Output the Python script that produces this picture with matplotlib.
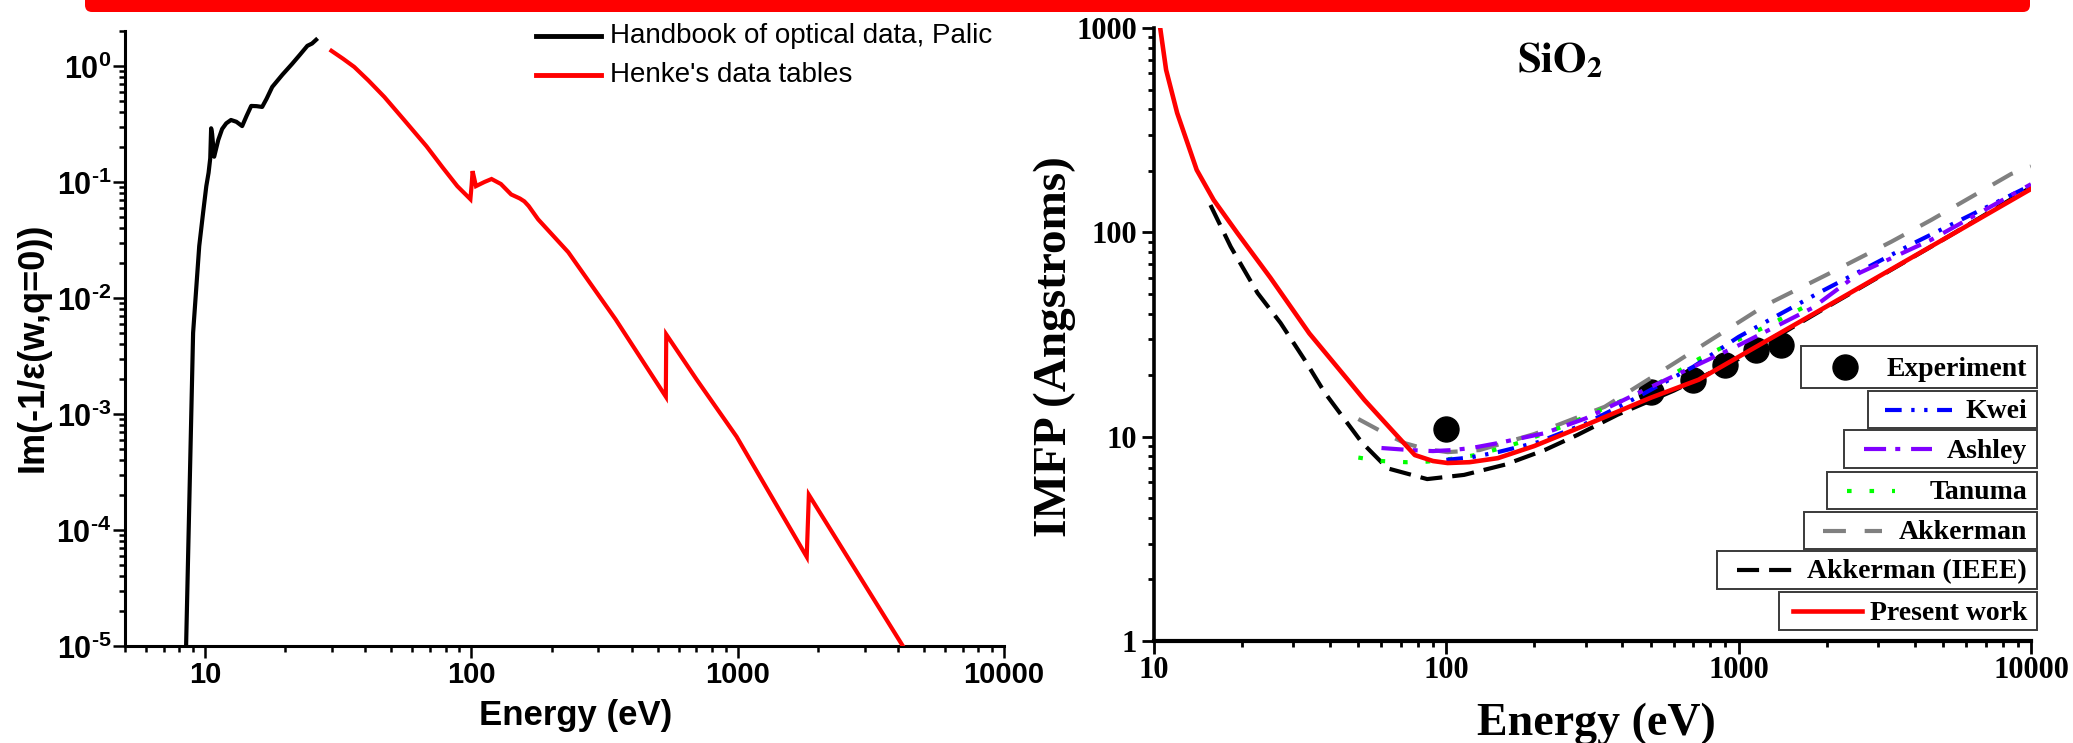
import matplotlib
matplotlib.use('Agg')
import matplotlib.pyplot as plt
from matplotlib.lines import Line2D
from matplotlib.patches import Rectangle, FancyBboxPatch

# ---------------- data: left panel, Im(-1/eps(w,q=0)) ----------------
palic_E = [8.48, 8.93, 9.01, 9.5, 9.83, 10.1, 10.3, 10.45, 10.53, 10.62, 10.81, 11.2, 11.58,
           12.0, 12.5, 13.1, 13.77, 14.3, 14.89, 15.6, 16.37, 17.0, 17.86, 19.5, 21.2, 22.7, 24.2, 25.2, 26.1]
palic_v = [1e-5, 2.0e-3, 5.0e-3, 0.028, 0.055, 0.092, 0.12, 0.16, 0.29, 0.26, 0.165, 0.23, 0.286,
           0.32, 0.342, 0.33, 0.303, 0.37, 0.452, 0.45, 0.443, 0.52, 0.659, 0.84, 1.04, 1.25, 1.49, 1.56, 1.68]

henke_E = [29.8, 33.0, 36.3, 41.0, 47.1, 56.0, 67.8, 78.0, 88.5, 99.1, 100.2, 101.0, 104.0, 112.0,
           119.0, 129.0, 141.0, 152.0, 158.0, 164.0, 178.0, 231.0, 348.0, 537.0, 539.0, 701.0,
           990.0, 1816.0, 1850.0, 4170.0]
henke_v = [1.35, 1.15, 0.98, 0.75, 0.54, 0.34, 0.203, 0.133, 0.092, 0.071, 0.095, 0.124, 0.092, 0.100,
           0.106, 0.096, 0.078, 0.072, 0.068, 0.062, 0.0476, 0.0248, 0.00653, 0.00141, 0.00485, 0.00198,
           0.000638, 0.0000587, 0.000201, 0.00001]

# ---------------- data: right panel, IMFP of SiO2 ----------------
present_E = [10.5, 11.0, 12.0, 14.0, 16.0, 19.3, 25.0, 34.0, 46.0, 52.5, 65.0, 78.0, 90.0, 101.0,
             120.0, 150.0, 200.0, 300.0, 500.0, 730.0, 1000.0, 2000.0, 3890.0, 6000.0, 10000.0]
present_L = [1000, 624, 384, 202, 144, 99, 60, 32, 19, 15.1, 10.8, 8.13, 7.6, 7.43,
             7.5, 7.85, 9.0, 11.4, 15.5, 19.0, 24.6, 43.4, 75, 107, 163]

ieee_E = [15.6, 18.3, 22.6, 27.1, 32.8, 38.4, 51.3, 62.9, 86, 115, 159, 217, 281, 385,
          600, 1000, 2000, 5000, 10000]
ieee_L = [136, 85, 50.5, 36, 23.7, 16.4, 9.4, 7.0, 6.2, 6.5, 7.3, 8.6, 10.2, 12.8,
          16.8, 24, 43, 92, 166]

akker_E = [50, 60, 72, 85, 101, 130, 200, 348, 600, 1236, 2000, 3330, 4560, 8550, 10000]
akker_L = [12.2, 10.6, 9.3, 8.7, 8.4, 8.6, 10.3, 14.0, 22.8, 44, 62, 90, 115, 193, 210]

kwei_E = [100, 120, 150, 206, 300, 431, 700, 1000, 1875, 4000, 10000]
kwei_L = [7.7, 7.9, 8.4, 9.4, 11.6, 15.1, 22, 30.8, 50.5, 89, 170]

ashley_E = [60, 75, 90, 105, 122, 150, 217, 300, 500, 1000, 1790, 2590, 4560, 10000]
ashley_L = [8.8, 8.6, 8.5, 8.6, 8.8, 9.3, 10.4, 12.3, 17.5, 28.0, 42.7, 63.3, 92, 172]

tanuma_E = [50, 60, 73, 86, 105, 124, 150, 180, 217, 254, 309, 441, 519, 730, 1260, 1834]
tanuma_L = [7.9, 7.6, 7.5, 7.55, 7.8, 8.1, 8.7, 9.4, 10.4, 11.3, 12.8, 16.0, 17.9, 24.0, 35.0, 46.0]

exp_E = [100, 500, 700, 900, 1150, 1400]
exp_L = [10.9, 16.6, 19.0, 22.4, 26.6, 28.1]

left_xticks = [10, 100, 1000, 10000]
left_xlabels = ['10', '100', '1000', '10000']
left_yticks = [1e-5, 1e-4, 1e-3, 1e-2, 1e-1, 1e0]
left_ylabels = [r'$10^{\text{-}5}$', r'$10^{\text{-}4}$', r'$10^{\text{-}3}$',
                r'$10^{\text{-}2}$', r'$10^{\text{-}1}$', r'$10^{0}$']
right_xticks = [10, 100, 1000, 10000]
right_xlabels = ['10', '100', '1000', '10000']
right_yticks = [1, 10, 100, 1000]
right_ylabels = ['1', '10', '100', '1000']

# ---------------- figure ----------------
plt.rcParams['mathtext.fontset'] = 'custom'
plt.rcParams['mathtext.rm'] = 'Liberation Sans:bold'
plt.rcParams['mathtext.it'] = 'Liberation Sans:bold'
plt.rcParams['mathtext.bf'] = 'Liberation Sans:bold'

W, H = 2073, 743
fig = plt.figure(figsize=(W / 100, H / 100), dpi=100)


def fx(px):
    return px / W


def fy(py):
    return 1 - py / H


SANS = 'Liberation Sans'
SERIF = 'Liberation Serif'

# red bar across the top
bar = FancyBboxPatch((85 / 100, (H - 12) / 100), (2030 - 85) / 100, 0.3,
                     boxstyle='round,pad=0,rounding_size=0.07',
                     transform=fig.dpi_scale_trans, facecolor='#ff0000', edgecolor='none')
fig.patches.append(bar)

# ---------------- left panel ----------------
ax1 = fig.add_axes([fx(125), fy(646), fx(1004) - fx(125), fy(31) - fy(646)])
ax1.set_xscale('log')
ax1.set_yscale('log')
ax1.plot(palic_E, palic_v, color='black', lw=3.0, solid_joinstyle='round', zorder=3)
ax1.plot(henke_E, henke_v, color='#ff0000', lw=3.0, solid_joinstyle='miter', zorder=3)
ax1.set_xlim(5, 10000)
ax1.set_ylim(1e-5, 2)
ax1.set_xticks(left_xticks, left_xlabels, fontfamily=SANS, fontweight='bold', fontsize=21)
ax1.set_xticks([m * d for d in (1, 10, 100, 1000) for m in range(2, 10) if 5 <= m * d < 10000],
               minor=True)
ax1.set_yticks(left_yticks, left_ylabels, fontsize=22)
ax1.set_yticks([m * d for d in (1e-5, 1e-4, 1e-3, 1e-2, 1e-1, 1) for m in range(2, 10) if m * d <= 2],
               minor=True)
ax1.yaxis.set_minor_formatter(plt.NullFormatter())
ax1.xaxis.set_minor_formatter(plt.NullFormatter())
for s in ('top', 'right'):
    ax1.spines[s].set_visible(False)
for s in ('left', 'bottom'):
    ax1.spines[s].set_linewidth(2.2)
ax1.tick_params(which='major', direction='out', length=8.6, width=1.8)
ax1.tick_params(which='minor', direction='out', length=4.5, width=1.8)
ax1.tick_params(axis='x', pad=2.5)
ax1.tick_params(axis='y', pad=1)

fig.text(fx(33), fy(347), 'Im(-1/ε(w,q=0))', rotation=90, ha='center', va='center',
         fontfamily=SANS, fontweight='bold', fontsize=26)
fig.text(fx(576), fy(725), 'Energy (eV)', ha='center', va='baseline',
         fontfamily=SANS, fontweight='bold', fontsize=25)

# left legend (no frame)
for (lab, col, yy) in [('Handbook of optical data, Palic', 'black', 36),
                       ("Henke's data tables", '#ff0000', 75)]:
    fig.add_artist(Line2D([fx(536), fx(601)], [fy(yy), fy(yy)], color=col, lw=3.5,
                          transform=fig.transFigure))
    fig.text(fx(610), fy(yy), lab, ha='left', va='center', fontfamily=SANS, fontsize=20)

# ---------------- right panel ----------------
ax2 = fig.add_axes([fx(1154), fy(641), fx(2031) - fx(1154), fy(28) - fy(641)])
ax2.set_xscale('log')
ax2.set_yscale('log')

styles = {
    'Experiment': dict(color='black', ls='none', marker='o', ms=18, mec='black'),
    'Kwei': dict(color='#0000ff', lw=3.0, dashes=(4.0, 2.3, 0.8, 2.3, 0.8, 2.3)),
    'Ashley': dict(color='#8000ff', lw=3.0, dashes=(5.3, 2.2, 1.2, 2.6)),
    'Tanuma': dict(color='#00ff00', lw=3.0, dashes=(1.1, 4.3)),
    'Akkerman': dict(color='#808080', lw=3.0, dashes=(5.5, 4.5)),
    'Akkerman (IEEE)': dict(color='black', lw=3.0, dashes=(5.3, 2.4)),
    'Present work': dict(color='#ff0000', lw=3.3),
}

ax2.plot(exp_E, exp_L, zorder=1.5, **styles['Experiment'])
ax2.plot(ieee_E, ieee_L, zorder=2, **styles['Akkerman (IEEE)'])
ax2.plot(akker_E, akker_L, zorder=2.1, **styles['Akkerman'])
ax2.plot(tanuma_E, tanuma_L, zorder=2.2, **styles['Tanuma'])
ax2.plot(kwei_E, kwei_L, zorder=2.3, **styles['Kwei'])
ax2.plot(ashley_E, ashley_L, zorder=2.4, **styles['Ashley'])
ax2.plot(present_E, present_L, zorder=3, **styles['Present work'])

ax2.set_xlim(10, 10000)
ax2.set_ylim(1, 1000)
ax2.set_xticks(right_xticks, right_xlabels, fontfamily=SERIF, fontweight='bold', fontsize=22)
ax2.set_xticks([m * d for d in (10, 100, 1000) for m in range(2, 10)], minor=True)
ax2.set_yticks(right_yticks, right_ylabels, fontfamily=SERIF, fontweight='bold', fontsize=22)
ax2.set_yticks([m * d for d in (1, 10, 100) for m in range(2, 10)], minor=True)
ax2.yaxis.set_minor_formatter(plt.NullFormatter())
ax2.xaxis.set_minor_formatter(plt.NullFormatter())
for s in ('top', 'right'):
    ax2.spines[s].set_visible(False)
ax2.spines['left'].set_linewidth(2.6)
ax2.spines['bottom'].set_linewidth(3.0)
ax2.tick_params(which='major', direction='out', length=9.0, width=2.0)
ax2.tick_params(which='minor', direction='out', length=4.5, width=2.0)
ax2.tick_params(axis='x', pad=1.5)
ax2.tick_params(axis='y', pad=3)

ax2.text(0.463, 0.928, r'$\mathbf{SiO_2}$', transform=ax2.transAxes, ha='center',
         va='baseline', fontsize=31, math_fontfamily='stix')

fig.text(fx(1055), fy(347), 'IMFP (Angstroms)', rotation=90, ha='center', va='center',
         fontfamily=SERIF, fontweight='bold', fontsize=34)
fig.text(fx(1596), fy(735), 'Energy (eV)', ha='center', va='baseline',
         fontfamily=SERIF, fontweight='bold', fontsize=33)

# right legend: one framed box per entry
legend_rows = [
    ('Experiment', 1801, 346, 388, 1845, 1845),
    ('Kwei', 1868, 391, 428, 1885, 1952),
    ('Ashley', 1844, 430, 468, 1864, 1932),
    ('Tanuma', 1827, 472, 509, 1847, 1895),
    ('Akkerman', 1804, 512, 549, 1823, 1882),
    ('Akkerman (IEEE)', 1717, 551, 589, 1737, 1794),
    ('Present work', 1779, 592, 630, 1793, 1862),
]
for (lab, bl, bt, bb, l0, l1) in legend_rows:
    rect = Rectangle((fx(bl), fy(bb)), fx(2037) - fx(bl), fy(bt) - fy(bb),
                     transform=fig.transFigure, facecolor='white', edgecolor='#3a3a3a',
                     lw=1.4, zorder=5)
    fig.add_artist(rect)
    yc = (bt + bb) / 2
    st = dict(styles[lab])
    if lab == 'Experiment':
        fig.add_artist(Line2D([fx(l0)], [fy(yc)], transform=fig.transFigure, zorder=6, **st))
    else:
        fig.add_artist(Line2D([fx(l0), fx(l1)], [fy(yc), fy(yc)], transform=fig.transFigure,
                              zorder=6, **st))
    fig.text(fx(2027), fy(yc + 2), lab, ha='right', va='center', fontfamily=SERIF,
             fontweight='bold', fontsize=20, zorder=7)

fig.savefig('out.png', dpi=100)
